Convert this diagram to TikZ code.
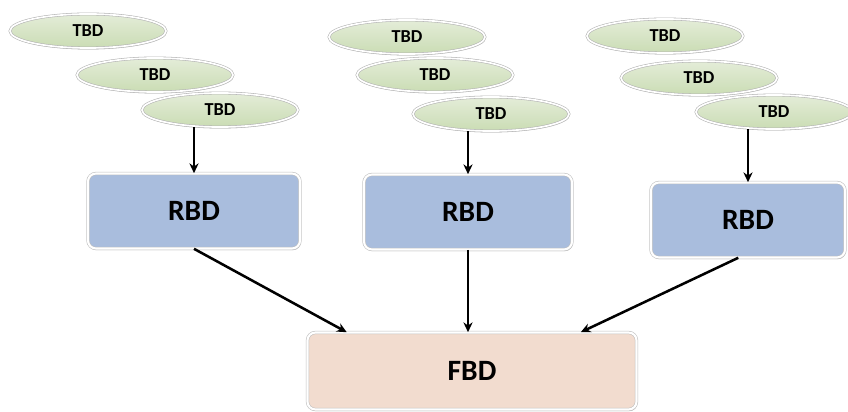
\documentclass[tikz,border=0pt]{standalone}
\usepackage{fontspec}
\setmainfont{Carlito}
\usetikzlibrary{arrows.meta,
  calc,
  positioning,
  shadows,
  shapes
}
\definecolor{tbdgreen}{HTML}{CADCB4}
\definecolor{tbdlight}{HTML}{E4EDD8}
\definecolor{rbdblue}{HTML}{A9BDDD}
\definecolor{fbdpink}{HTML}{F2DCCF}
\tikzstyle{tbdellipse} = [ellipse, draw=black!30, line width=0.4pt,
  double=white, double distance=1.2pt,
  top color=tbdlight, bottom color=tbdgreen, minimum width=3.9cm,
  minimum height=0.85cm, inner sep=0pt,
  font=\fontsize{13}{15}\selectfont\bfseries,
  drop shadow={shadow xshift=0.4pt, shadow yshift=-1pt, opacity=0.35, fill=black!50}]
\tikzstyle{rbdbox} = [rectangle, rounded corners=0.2cm, draw=black!25,
  line width=0.4pt, double=white, double distance=1.5pt, fill=rbdblue,
  minimum height=1.875cm,
  font=\fontsize{21}{25}\selectfont\bfseries,
  drop shadow={shadow xshift=0.6pt, shadow yshift=-1.2pt, opacity=0.45, fill=black!50}]
\tikzstyle{fbdbox} = [rbdbox, fill=fbdpink, minimum height=1.925cm]
\tikzstyle{flowarrow} = [->, >={Stealth[length=7pt, width=6.5pt]}, line width=1.8pt]

\begin{document}
\begin{tikzpicture}[x=0.025cm, y=-0.025cm]
  \useasboundingbox (0,0) rectangle (848,412);

  % left group
  \node[tbdellipse] (tbd11) at (88,31) {TBD};
  \node[tbdellipse] (tbd12) at (155,75) {TBD};
  \node[tbdellipse] (tbd13) at (220,110) {TBD};
  \node[rbdbox, minimum width=5.3cm] (rbd1) at (194,211) {RBD};

  % middle group
  \node[tbdellipse] (tbd21) at (407,37) {TBD};
  \node[tbdellipse] (tbd22) at (435,75) {TBD};
  \node[tbdellipse] (tbd23) at (491,114) {TBD};
  \node[rbdbox, minimum width=5.2cm] (rbd2) at (468,212) {RBD};

  % right group
  \node[tbdellipse] (tbd31) at (665,36) {TBD};
  \node[tbdellipse] (tbd32) at (699,78) {TBD};
  \node[tbdellipse] (tbd33) at (774,112) {TBD};
  \node[rbdbox, minimum width=4.85cm] (rbd3) at (748,220) {RBD};

  % FBD
  \node[fbdbox, minimum width=8.225cm] (fbd) at (472,371) {FBD};

  % TBD -> RBD
  \draw[flowarrow] (tbd13.south -| rbd1.north) -- (rbd1.north);
  \draw[flowarrow] (tbd23.south -| rbd2.north) -- (rbd2.north);
  \draw[flowarrow] (tbd33.south -| rbd3.north) -- (rbd3.north);

  % RBD -> FBD
  \draw[flowarrow] (rbd1.south) -- ($(fbd.north west)!0.12!(fbd.north east)$);
  \draw[flowarrow] (rbd2.south) -- (rbd2.south |- fbd.north);
  \draw[flowarrow] ($(rbd3.south west)!0.45!(rbd3.south east)$)
    -- ($(fbd.north west)!0.83!(fbd.north east)$);
\end{tikzpicture}
\end{document}
